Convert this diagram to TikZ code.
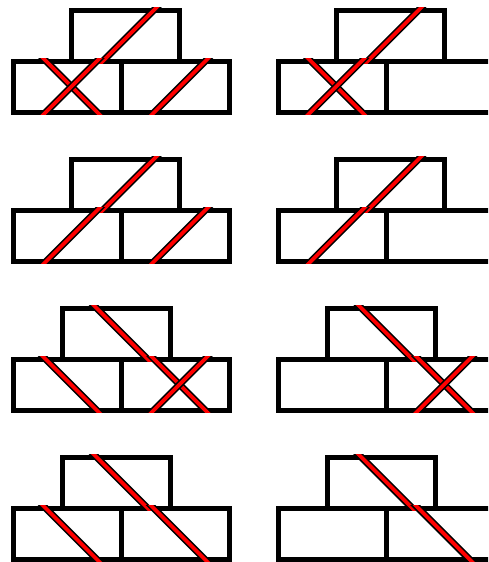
\documentclass[tikz,border=0pt]{standalone}
\tikzset{
  brickline/.style={draw=black,line width=5pt,line join=miter},
  lineout/.style={draw=black,line width=7pt},
  linein/.style={draw=red,line width=3.8pt}
}
% bricks of one panel: #1 x offset, #2 top y, #3 left x of the top brick
\newcommand\brickpanel[3]{%
  \draw[brickline] ({#1+13.5},{#2+51}) rectangle ({#1+121.5},{#2+102});
  \draw[brickline] ({#1+121.5},{#2+51}) rectangle ({#1+229.5},{#2+102});
  \draw[brickline] ({#1+#3},{#2}) rectangle ({#1+#3+108},{#2+51});
}
% red line through a brick: #1 centre x, #2 centre y, #3 = 1 for "/", -1 for "\"
\newcommand\redline[3]{%
  \begin{scope}
    \clip ({#1-45},{#2-28}) rectangle ({#1+45},{#2+28});
    \draw[lineout] ({#1-34},{#2+34*(#3)}) -- ({#1+34},{#2-34*(#3)});
    \draw[linein] ({#1-34},{#2+34*(#3)}) -- ({#1+34},{#2-34*(#3)});
  \end{scope}}
\begin{document}
\begin{tikzpicture}[x=1pt,y=-1pt]
\clip (0,0) rectangle (488,562);
\fill[white] (0,0) rectangle (488,562);
% row 1
\brickpanel{0}{10}{71.5}
\redline{128.5}{35.5}{1}
\redline{71.5}{86.5}{-1}
\redline{71.5}{86.5}{1}
\redline{180}{86.5}{1}
\brickpanel{264.7}{10}{71.5}
\redline{393.2}{35.5}{1}
\redline{336.2}{86.5}{-1}
\redline{336.2}{86.5}{1}
% row 2
\brickpanel{0}{159}{71.5}
\redline{128.5}{184.5}{1}
\redline{72}{235.5}{1}
\redline{180}{235.5}{1}
\brickpanel{264.7}{159}{71.5}
\redline{393.2}{184.5}{1}
\redline{336.7}{235.5}{1}
% row 3
\brickpanel{0}{308}{62.5}
\redline{122}{333.5}{-1}
\redline{71}{384.5}{-1}
\redline{179.5}{384.5}{-1}
\redline{179.5}{384.5}{1}
\brickpanel{264.7}{308}{62.5}
\redline{386.7}{333.5}{-1}
\redline{444.2}{384.5}{-1}
\redline{444.2}{384.5}{1}
% row 4
\brickpanel{0}{457}{62.5}
\redline{122}{482.5}{-1}
\redline{71}{533.5}{-1}
\redline{179}{533.5}{-1}
\brickpanel{264.7}{457}{62.5}
\redline{386.7}{482.5}{-1}
\redline{443.7}{533.5}{-1}
\end{tikzpicture}
\end{document}
